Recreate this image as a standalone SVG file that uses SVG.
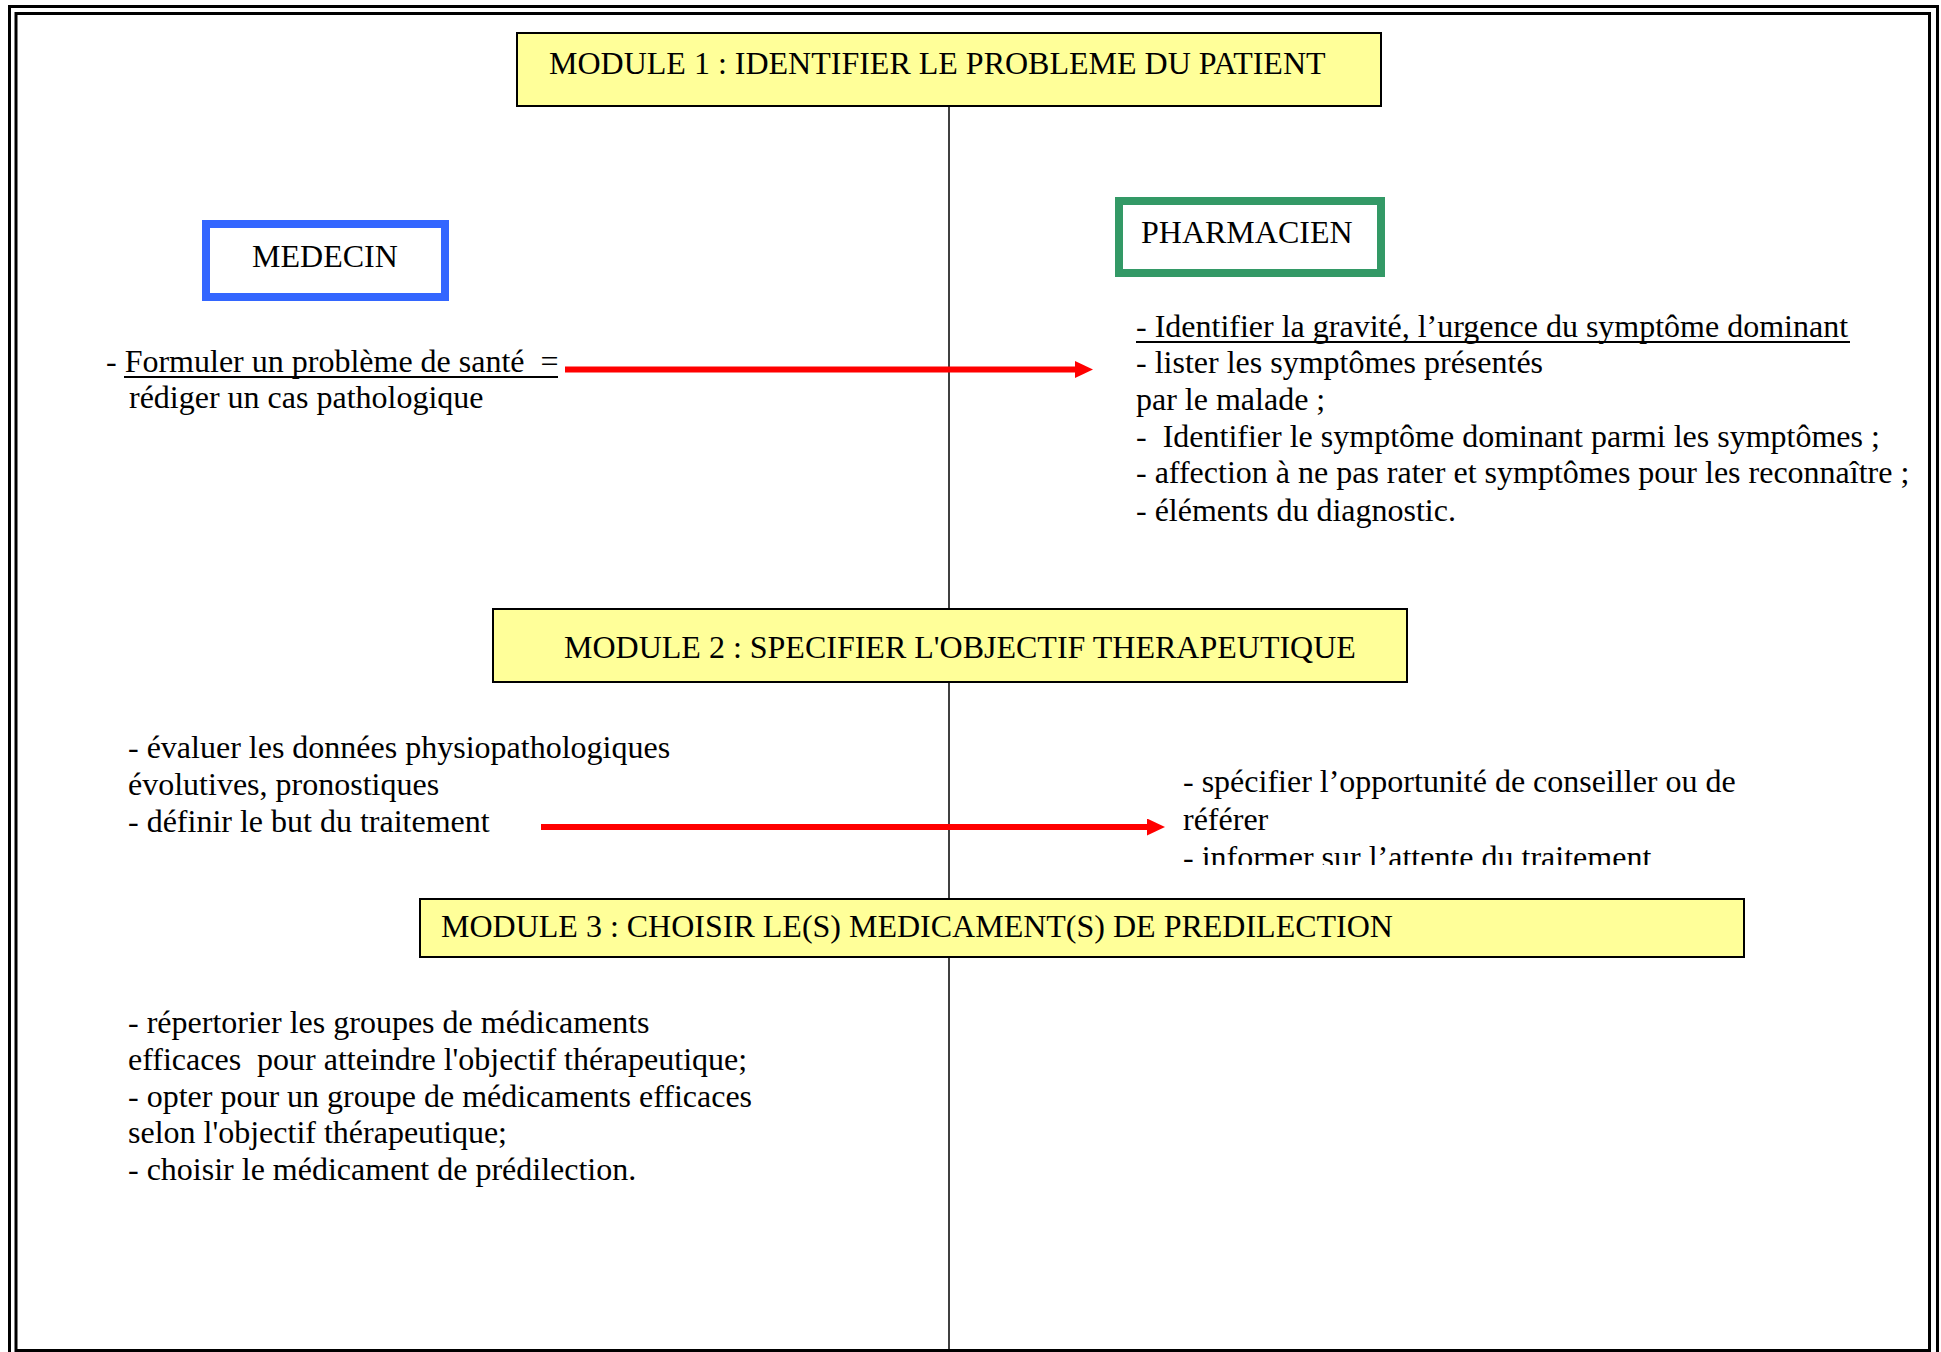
<svg xmlns="http://www.w3.org/2000/svg" width="1941" height="1352" viewBox="0 0 1941 1352">
<style>
.t { font-family: "Liberation Serif", "Times New Roman", serif; font-size: 32px; fill: #000; white-space: pre; }
.h { font-family: "Liberation Serif", "Times New Roman", serif; font-size: 32px; fill: #000; white-space: pre; }
.mod { fill: #FFFF99; stroke: #000; stroke-width: 2; }
.ul { stroke: #000; stroke-width: 2.2; }
.arrow { stroke: #FF0000; stroke-width: 6; fill: none; marker-end: url(#ah); }
</style>
<defs>
<marker id="ah" markerUnits="userSpaceOnUse" markerWidth="18" markerHeight="18" refX="0" refY="8.5" orient="auto">
<path d="M0,0 L18,8.5 L0,17 Z" fill="#FF0000"/>
</marker>
<clipPath id="clipInf"><rect x="1100" y="700" width="700" height="165"/></clipPath>
</defs>
<rect width="1941" height="1352" fill="#fff"/>
<g id="frame" fill="none" stroke="#000">
<rect x="9.5" y="6.5" width="1928" height="1360" stroke-width="3"/>
<rect x="16" y="13.5" width="1913.5" height="1337" stroke-width="3"/>
</g>
<g id="connectors">
<line x1="949" y1="106" x2="949" y2="1350" stroke="#000" stroke-width="1.5"/>
<line class="arrow" x1="565" y1="369.5" x2="1075" y2="369.5"/>
<line class="arrow" x1="541" y1="827" x2="1147" y2="827"/>
</g>
<g id="module1">
<rect class="mod" x="517" y="33" width="864" height="73"/>
<text class="h" x="549" y="74">MODULE 1 : IDENTIFIER LE PROBLEME DU PATIENT</text>
</g>
<g id="module2">
<rect class="mod" x="493" y="609" width="914" height="73"/>
<text class="h" x="564" y="658">MODULE 2 : SPECIFIER L'OBJECTIF THERAPEUTIQUE</text>
</g>
<g id="module3">
<rect class="mod" x="420" y="899" width="1324" height="58"/>
<text class="h" x="441" y="937">MODULE 3 : CHOISIR LE(S) MEDICAMENT(S) DE PREDILECTION</text>
</g>
<g id="medecin">
<rect x="206" y="224" width="239" height="73" fill="#fff" stroke="#3366FF" stroke-width="8"/>
<text class="h" x="325" y="267" text-anchor="middle">MEDECIN</text>
</g>
<g id="pharmacien">
<rect x="1119" y="201" width="262" height="72" fill="#fff" stroke="#339966" stroke-width="8"/>
<text class="h" x="1141" y="243">PHARMACIEN</text>
</g>
<g id="medecin-m1">
<text class="t" x="106" y="372">- Formuler un problème de santé  =</text>
<line class="ul" x1="124" y1="377" x2="558" y2="377"/>
<text class="t" x="129" y="408">rédiger un cas pathologique</text>
</g>
<g id="pharmacien-m1">
<text class="t" x="1136" y="337">- Identifier la gravité, l’urgence du symptôme dominant</text>
<line class="ul" x1="1136" y1="342" x2="1850" y2="342"/>
<text class="t" x="1136" y="373">- lister les symptômes présentés</text>
<text class="t" x="1136" y="410">par le malade ;</text>
<text class="t" x="1136" y="447">-  Identifier le symptôme dominant parmi les symptômes ;</text>
<text class="t" x="1136" y="483">- affection à ne pas rater et symptômes pour les reconnaître ;</text>
<text class="t" x="1136" y="521">- éléments du diagnostic.</text>
</g>
<g id="medecin-m2">
<text class="t" x="128" y="758">- évaluer les données physiopathologiques</text>
<text class="t" x="128" y="795">évolutives, pronostiques</text>
<text class="t" x="128" y="832">- définir le but du traitement</text>
</g>
<g id="pharmacien-m2">
<text class="t" x="1183" y="792">- spécifier l’opportunité de conseiller ou de</text>
<text class="t" x="1183" y="830">référer</text>
<text class="t" x="1183" y="868" clip-path="url(#clipInf)">- informer sur l’attente du traitement</text>
</g>
<g id="medecin-m3">
<text class="t" x="128" y="1033">- répertorier les groupes de médicaments</text>
<text class="t" x="128" y="1070">efficaces  pour atteindre l'objectif thérapeutique;</text>
<text class="t" x="128" y="1107">- opter pour un groupe de médicaments efficaces</text>
<text class="t" x="128" y="1143">selon l'objectif thérapeutique;</text>
<text class="t" x="128" y="1180">- choisir le médicament de prédilection.</text>
</g>
</svg>
